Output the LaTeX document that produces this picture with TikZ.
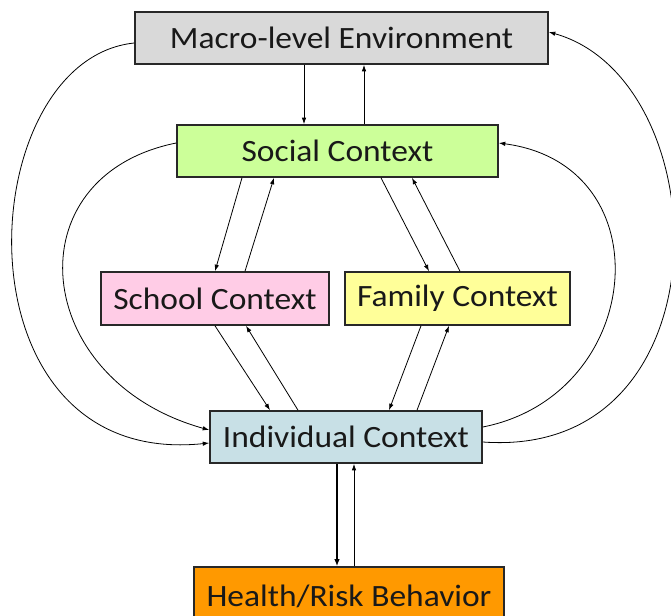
\documentclass[tikz,border=0pt]{standalone}
\usepackage{fontspec}
\setmainfont{Carlito}[FakeStretch=1.08]
\usetikzlibrary{arrows.meta}
\definecolor{macrogray}{RGB}{217,217,217}
\definecolor{socialgreen}{RGB}{204,255,153}
\definecolor{schoolpink}{RGB}{255,204,230}
\definecolor{familyyellow}{RGB}{255,255,153}
\definecolor{indivblue}{RGB}{200,224,230}
\definecolor{healthorange}{RGB}{255,153,0}
\definecolor{edgegray}{RGB}{40,40,40}
\begin{document}
\begin{tikzpicture}[x=1pt,y=-1pt,
  ctxbox/.style={draw=edgegray, line width=1.6pt, inner sep=0pt,
    font=\fontsize{31}{36}\selectfont, text=black!90},
  link/.style={line width=0.8pt, -{Latex[length=6.5pt,width=4.5pt]}},
  boldlink/.style={line width=2.4pt, -{Latex[length=7pt,width=5.5pt]}}]
\useasboundingbox (0,0) rectangle (671,615);
\clip (0,0) rectangle (671,615);

% context boxes
\node[ctxbox, fill=macrogray, minimum width=413pt, minimum height=52pt] (macro) at (341.5,38) {Macro-level Environment};
\node[ctxbox, fill=socialgreen, minimum width=321pt, minimum height=52pt] (social) at (337.5,151) {Social Context};
\node[ctxbox, fill=schoolpink, minimum width=228pt, minimum height=53pt] (school) at (215,298.5) {School Context};
\node[ctxbox, fill=familyyellow, minimum width=225pt, minimum height=53pt] (family) at (457.5,298.5) {Family Context};
\node[ctxbox, fill=indivblue, minimum width=272pt, minimum height=52pt] (indiv) at (346,437) {Individual Context};
\node[ctxbox, fill=healthorange, minimum width=310pt, minimum height=58pt] (health) at (349,596) {Health/Risk Behavior};

% macro <-> social
\draw[link] ([xshift=-37.5pt]macro.south) -- ([xshift=-33.5pt]social.north);
\draw[link] ([xshift=26.5pt]social.north) -- ([xshift=22.5pt]macro.south);

% social <-> school / family
\draw[link] ([xshift=-95.5pt]social.south) -- (school.north);
\draw[link] ([xshift=30pt]school.north) -- ([xshift=-63.5pt]social.south);
\draw[link] ([xshift=43.5pt]social.south) -- ([xshift=-28.5pt]family.north);
\draw[link] ([xshift=2.5pt]family.north) -- ([xshift=74.5pt]social.south);

% school / family <-> individual
\draw[link] (school.south) -- ([xshift=-76pt]indiv.north);
\draw[link] ([xshift=-48pt]indiv.north) -- ([xshift=31pt]school.south);
\draw[link] ([xshift=-36.5pt]family.south) -- ([xshift=43pt]indiv.north);
\draw[link] ([xshift=71pt]indiv.north) -- ([xshift=-8.5pt]family.south);

% individual <-> behaviour
\draw[boldlink] ([xshift=-9pt]indiv.south) -- ([xshift=-12pt]health.north);
\draw[link] ([xshift=5pt]health.north) -- ([xshift=8pt]indiv.south);

% long feedback loops
\draw[link] ([yshift=-5pt]macro.west) .. controls (-30,60) and (-50,470) .. ([yshift=-6pt]indiv.west);
\draw[link] ([yshift=8pt]social.west) .. controls (12,176) and (30,380) .. ([yshift=7pt]indiv.west);
\draw[link] ([yshift=10pt]indiv.east) .. controls (645,395) and (665,165) .. ([yshift=8pt]social.east);
\draw[link] ([yshift=-5pt]indiv.east) .. controls (730,460) and (720,80) .. ([yshift=6pt]macro.east);
\end{tikzpicture}
\end{document}
